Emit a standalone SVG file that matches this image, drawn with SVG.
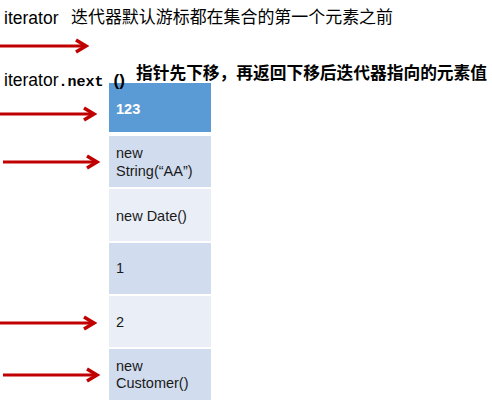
<svg xmlns="http://www.w3.org/2000/svg" width="492" height="403" viewBox="0 0 492 403">
<style>
.t{font-family:"Liberation Sans",Arial,sans-serif;fill:#000}
.cn{font-family:"Liberation Sans","Noto Sans CJK SC",sans-serif;fill:#000}
.cell text{font-family:"Liberation Sans",Arial,sans-serif;font-size:14.5px;fill:#1a1a1a}
.arr{stroke:#C00000;stroke-width:3;fill:none}
.head{stroke:#C00000;stroke-width:3.5;fill:none;stroke-linejoin:miter}
</style>
<rect width="492" height="403" fill="#fff"/>
<text class="t" x="4" y="24" font-size="17.5">iterator</text>
<text class="cn" x="71" y="23" font-size="17" textLength="322" lengthAdjust="spacingAndGlyphs">迭代器默认游标都在集合的第一个元素之前</text>
<text class="cn" x="136" y="79" font-size="16.7" font-weight="bold" textLength="351" lengthAdjust="spacingAndGlyphs">指针先下移，再返回下移后迭代器指向的元素值</text>
<g id="n1" class="cell"><rect x="109" y="83" width="102" height="49" fill="#5B9BD5"/><text x="116" y="114" style="fill:#fff;font-weight:bold">123</text></g>
<g id="n2" class="cell"><rect x="109" y="136" width="102" height="51" fill="#D1DDEE"/><text x="116" y="158">new</text><text x="116" y="176">String(“AA”)</text></g>
<g id="n3" class="cell"><rect x="109" y="189" width="102" height="52" fill="#E9EEF7"/><text x="116" y="221">new Date()</text></g>
<g id="n4" class="cell"><rect x="109" y="243" width="102" height="51" fill="#D1DDEE"/><text x="116" y="273">1</text></g>
<g id="n5" class="cell"><rect x="109" y="296" width="102" height="51" fill="#E9EEF7"/><text x="116" y="327">2</text></g>
<g id="n6" class="cell"><rect x="109" y="349" width="102" height="51" fill="#D1DDEE"/><text x="116" y="371">new</text><text x="116" y="388">Customer()</text></g>
<text class="t" x="4" y="86" font-size="17.5">iterator<tspan font-family="'Liberation Mono',monospace" font-weight="bold" font-size="15">.next </tspan><tspan font-family="'Liberation Sans',sans-serif" font-weight="bold" font-size="17" dx="1">()</tspan></text>
<g id="connectors">
<line class="arr" x1="0" y1="46" x2="85" y2="46"/><polyline class="head" points="76,40 86,46 76,52"/>
<line class="arr" x1="0" y1="114" x2="93" y2="114"/><polyline class="head" points="84,108 94,114 84,120"/>
<line class="arr" x1="3" y1="162" x2="96" y2="162"/><polyline class="head" points="87,156 97,162 87,168"/>
<line class="arr" x1="0" y1="323" x2="93" y2="323"/><polyline class="head" points="84,317 94,323 84,329"/>
<line class="arr" x1="3" y1="375" x2="96" y2="375"/><polyline class="head" points="87,369 97,375 87,381"/>
</g>
</svg>
